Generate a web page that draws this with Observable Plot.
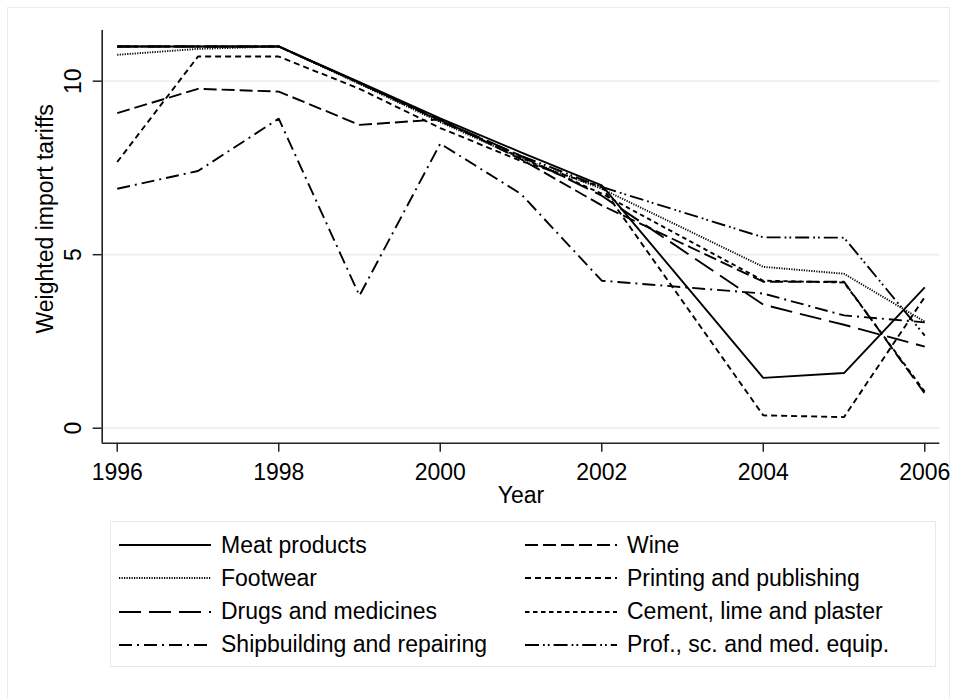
<!DOCTYPE html>
<html>
<head>
<meta charset="utf-8">
<script src="https://cdn.jsdelivr.net/npm/d3@7"></script>
<script src="https://cdn.jsdelivr.net/npm/@observablehq/plot@0.6"></script>
<style>
  html, body { margin: 0; padding: 0; background: #ffffff; }
  #wrap { position: relative; width: 958px; height: 698px; background: #ffffff; font-family: "Liberation Sans", Arial, sans-serif; overflow: hidden; }
  #frame { position: absolute; left: 7px; top: 7px; width: 943px; height: 700px; border: 1.5px solid #e6eef1; box-sizing: border-box; pointer-events: none; }
  #chart { position: absolute; left: 0; top: 0; }
  #legend { position: absolute; left: 110px; top: 521px; width: 826px; height: 146px; border: 1.5px solid #e4ebee; box-sizing: border-box; }
  .item { position: absolute; height: 30px; display: flex; align-items: center; font-size: 23px; color: #000; white-space: nowrap; }
  .item svg { margin-right: 10px; }
</style>
</head>
<body>
<div id="wrap">
  <div id="frame"></div>
  <div id="chart"></div>
  <div id="legend"></div>
</div>
<script>
// ---- data ----
const years = [1996, 1997, 1998, 1999, 2000, 2001, 2002, 2004, 2005, 2006];
const meatProducts   = [11.0, 11.0, 11.0, 9.97, 8.93, 7.95, 7.00, 1.45, 1.59, 4.06];
const wine           = [9.08, 9.78, 9.70, 8.74, 8.90, 7.75, 6.42, 4.22, 4.22, 1.00];
const footwear       = [10.76, 10.93, 11.0, 9.92, 8.82, 7.78, 6.90, 4.65, 4.45, 3.07];
const printing       = [7.67, 10.71, 10.71, 9.78, 8.65, 7.70, 6.95, 0.37, 0.32, 3.78];
const drugs          = [11.0, 11.0, 11.0, 9.95, 8.88, 7.85, 6.70, 3.56, 2.98, 2.35];
const cement         = [11.0, 11.0, 11.0, 9.94, 8.86, 7.80, 6.76, 4.25, 4.20, 1.05];
const shipbuilding   = [6.90, 7.41, 8.92, 3.82, 8.20, 6.75, 4.25, 3.88, 3.25, 3.05];
const profEquip      = [11.0, 11.0, 11.0, 9.95, 8.85, 7.85, 6.95, 5.50, 5.49, 2.67];

const seriesNames = ["Meat products", "Wine", "Footwear", "Printing and publishing",
  "Drugs and medicines", "Cement, lime and plaster", "Shipbuilding and repairing", "Prof., sc. and med. equip."];
const seriesValues = [meatProducts, wine, footwear, printing, drugs, cement, shipbuilding, profEquip];
const dashes = ["none", "13,5", "1.2,1.3", "6,4", "22,8", "4.5,3.5", "13,5,2,5", "14,4,1.8,3,1.8,4"];

const xTicks = [1996, 1998, 2000, 2002, 2004, 2006];
const yTicks = [0, 5, 10];
const xDomain = [1995.814, 2006.186];
const yDomain = [-0.432, 11.46];

const rows = [];
seriesValues.forEach((vals, i) => vals.forEach((v, j) => rows.push({series: seriesNames[i], year: years[j], value: v})));

const W = 958, H = 512;
const font = "Liberation Sans, Arial, sans-serif";
const LW = 1.9;

const lineMarks = seriesNames.map((name, i) =>
  Plot.line(rows.filter(d => d.series === name), {x: "year", y: "value", stroke: "#000", strokeWidth: LW,
    strokeDasharray: dashes[i] === "none" ? undefined : dashes[i], strokeLinejoin: "miter", strokeLinecap: "butt"}));

const chart = Plot.plot({
  width: W, height: H,
  marginLeft: 101.7, marginRight: W - 939.3, marginTop: 30, marginBottom: H - 442.7,
  style: {fontFamily: font, background: "transparent", overflow: "visible"},
  x: {type: "linear", domain: xDomain, axis: null},
  y: {type: "linear", domain: yDomain, axis: null},
  marks: [
    Plot.ruleY(yTicks, {stroke: "#e8f0f2", strokeWidth: 1.8}),
    ...lineMarks,
    Plot.ruleX([xDomain[0]], {stroke: "#222", strokeWidth: 1.6}),
    Plot.ruleY([yDomain[0]], {stroke: "#222", strokeWidth: 1.6}),
    Plot.axisX({ticks: xTicks, tickSize: 9, tickPadding: 11, fontSize: 23, tickFormat: d => String(d), label: null, stroke: "#222", strokeWidth: 1.5, fill: "#000"}),
    Plot.axisY({ticks: yTicks, tickSize: 9, tickFormat: () => "", label: null, stroke: "#222", strokeWidth: 1.5}),
    Plot.text(yTicks, {x: xDomain[0], y: d => d, text: d => String(d), dx: -29, rotate: -90, fontSize: 23, fill: "#000", textAnchor: "middle", lineAnchor: "middle"}),
    Plot.text(["Weighted import tariffs"], {frameAnchor: "left", dx: -57, dy: -18, rotate: -90, fontSize: 23, fill: "#000", textAnchor: "middle", lineAnchor: "middle"}),
    Plot.text(["Year"], {frameAnchor: "bottom", dy: 52, fontSize: 23, fill: "#000", textAnchor: "middle", lineAnchor: "middle"})
  ]
});
document.getElementById("chart").appendChild(chart);

// ---- legend ----
const legend = document.getElementById("legend");
seriesNames.forEach((name, i) => {
  const col = i % 2, row = Math.floor(i / 2);
  const item = document.createElement("div");
  item.className = "item";
  item.style.left = (col === 0 ? 8 : 414) + "px";
  item.style.top = (8 + row * 33.3) + "px";
  const svgNS = "http://www.w3.org/2000/svg";
  const svg = document.createElementNS(svgNS, "svg");
  svg.setAttribute("width", "92"); svg.setAttribute("height", "10");
  const ln = document.createElementNS(svgNS, "line");
  ln.setAttribute("x1", "0"); ln.setAttribute("x2", "92"); ln.setAttribute("y1", "5"); ln.setAttribute("y2", "5");
  ln.setAttribute("stroke", "#000"); ln.setAttribute("stroke-width", String(LW));
  if (dashes[i] !== "none") ln.setAttribute("stroke-dasharray", dashes[i]);
  svg.appendChild(ln);
  item.appendChild(svg);
  const span = document.createElement("span");
  span.textContent = name;
  item.appendChild(span);
  legend.appendChild(item);
});
</script>
</body>
</html>
